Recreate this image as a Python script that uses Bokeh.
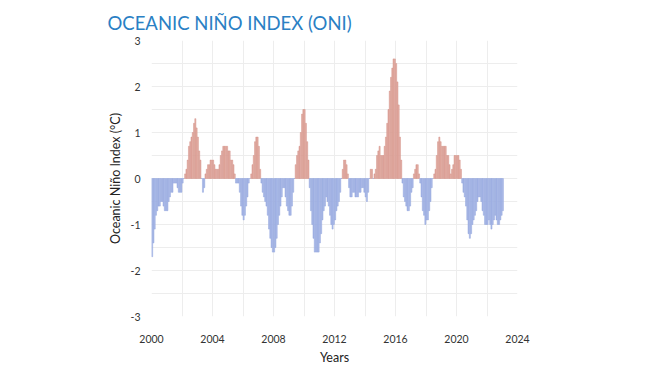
from bokeh.plotting import figure
from bokeh.models import ColumnDataSource, FixedTicker, SingleIntervalTicker, Range1d
from bokeh.embed import file_html
from bokeh.resources import INLINE

# Monthly Oceanic Niño Index values (°C), Jan 2000 onward
oni_2000 = [-1.7, -1.4, -1.1, -0.8, -0.7, -0.6, -0.6, -0.5, -0.5, -0.6, -0.7, -0.7]
oni_2001 = [-0.7, -0.5, -0.4, -0.3, -0.3, -0.1, -0.1, -0.1, -0.2, -0.3, -0.3, -0.3]
oni_2002 = [-0.1, 0.0, 0.1, 0.2, 0.4, 0.7, 0.8, 0.9, 1.0, 1.2, 1.3, 1.1]
oni_2003 = [0.9, 0.6, 0.4, 0.0, -0.3, -0.2, 0.1, 0.2, 0.3, 0.3, 0.4, 0.4]
oni_2004 = [0.4, 0.3, 0.2, 0.2, 0.2, 0.3, 0.5, 0.6, 0.7, 0.7, 0.7, 0.7]
oni_2005 = [0.6, 0.6, 0.4, 0.4, 0.3, 0.1, -0.1, -0.1, -0.1, -0.3, -0.6, -0.8]
oni_2006 = [-0.9, -0.8, -0.6, -0.4, -0.1, 0.0, 0.1, 0.3, 0.5, 0.8, 0.9, 0.9]
oni_2007 = [0.7, 0.2, -0.1, -0.3, -0.4, -0.5, -0.6, -0.8, -1.1, -1.3, -1.5, -1.6]
oni_2008 = [-1.6, -1.5, -1.3, -1.0, -0.8, -0.6, -0.4, -0.2, -0.2, -0.4, -0.6, -0.7]
oni_2009 = [-0.8, -0.8, -0.6, -0.3, 0.0, 0.3, 0.5, 0.6, 0.7, 1.0, 1.4, 1.5]
oni_2010 = [1.5, 1.2, 0.8, 0.4, -0.2, -0.7, -1.0, -1.3, -1.6, -1.6, -1.6, -1.6]
oni_2011 = [-1.4, -1.2, -0.9, -0.7, -0.6, -0.4, -0.5, -0.6, -0.8, -1.0, -1.1, -1.0]
oni_2012 = [-0.9, -0.7, -0.6, -0.5, -0.3, 0.0, 0.2, 0.4, 0.4, 0.3, 0.1, -0.2]
oni_2013 = [-0.4, -0.4, -0.3, -0.3, -0.4, -0.4, -0.4, -0.3, -0.3, -0.2, -0.2, -0.3]
oni_2014 = [-0.4, -0.5, -0.3, 0.0, 0.2, 0.2, 0.0, 0.1, 0.2, 0.5, 0.6, 0.7]
oni_2015 = [0.5, 0.5, 0.5, 0.7, 0.9, 1.2, 1.5, 1.9, 2.2, 2.4, 2.6, 2.6]
oni_2016 = [2.5, 2.1, 1.6, 0.9, 0.4, -0.1, -0.4, -0.5, -0.6, -0.7, -0.7, -0.6]
oni_2017 = [-0.3, -0.2, 0.1, 0.2, 0.3, 0.3, 0.1, -0.1, -0.4, -0.7, -0.8, -1.0]
oni_2018 = [-0.9, -0.9, -0.7, -0.5, -0.2, 0.0, 0.1, 0.2, 0.5, 0.8, 0.9, 0.8]
oni_2019 = [0.7, 0.7, 0.7, 0.7, 0.5, 0.5, 0.3, 0.1, 0.2, 0.3, 0.5, 0.5]
oni_2020 = [0.5, 0.5, 0.4, 0.2, -0.1, -0.3, -0.4, -0.6, -0.9, -1.2, -1.3, -1.2]
oni_2021 = [-1.0, -0.9, -0.8, -0.7, -0.5, -0.4, -0.4, -0.5, -0.7, -0.8, -1.0, -1.0]
oni_2022 = [-1.0, -0.9, -1.0, -1.1, -1.0, -0.9, -0.8, -0.9, -1.0, -1.0, -0.9, -0.8]
oni_2023 = [-0.7]

years = list(range(2000, 2024))
oni_by_year = [oni_2000, oni_2001, oni_2002, oni_2003, oni_2004, oni_2005, oni_2006,
               oni_2007, oni_2008, oni_2009, oni_2010, oni_2011, oni_2012, oni_2013,
               oni_2014, oni_2015, oni_2016, oni_2017, oni_2018, oni_2019, oni_2020,
               oni_2021, oni_2022, oni_2023]

x_ticks = [2000, 2004, 2008, 2012, 2016, 2020, 2024]
y_ticks = [-3, -2, -1, 0, 1, 2, 3]
y_tick_labels = ["-3", "-2", "-1", "0", "1", "2", "3"]

warm_fill, warm_line = "#e6afa6", "#d39288"
cool_fill, cool_line = "#adbbe9", "#91a4dc"

xs, tops, fills, lines = [], [], [], []
for yr, vals in zip(years, oni_by_year):
    for m, v in enumerate(vals):
        xs.append(yr + (m + 0.5) / 12.0)
        tops.append(v)
        fills.append(warm_fill if v > 0 else cool_fill)
        lines.append(warm_line if v > 0 else cool_line)

src = ColumnDataSource(dict(x=xs, top=tops, fill=fills, line=lines))

p = figure(output_backend="svg", toolbar_location=None,
           frame_width=366, frame_height=276,
           min_border_left=151, min_border_right=40,
           min_border_top=40, min_border_bottom=40,
           x_range=Range1d(2000, 2024), y_range=Range1d(-3, 3),
           background_fill_color="white", border_fill_color="white",
           outline_line_color=None)

p.title.text = "OCEANIC NIÑO INDEX (ONI)"
p.title.text_font = "Lato"
p.title.text_font_style = "normal"
p.title.text_font_size = "18.5px"
p.title.text_color = "#2a80c4"
p.title.align = "left"
p.title.offset = -44
p.title.standoff = 13

p.vbar(x="x", top="top", bottom=0, width=1 / 12.0 * 0.85, source=src,
       fill_color="fill", line_color="line", line_width=0.5)

p.xaxis.ticker = FixedTicker(ticks=x_ticks)
p.yaxis.ticker = FixedTicker(ticks=y_ticks)
p.yaxis.major_label_overrides = {t: s for t, s in zip(y_ticks, y_tick_labels)}
p.xgrid.ticker = SingleIntervalTicker(interval=2)
p.ygrid.ticker = SingleIntervalTicker(interval=0.5)
p.xgrid.grid_line_color = "#ededed"
p.ygrid.grid_line_color = "#ededed"

for ax in (p.xaxis[0], p.yaxis[0]):
    ax.axis_line_color = None
    ax.major_tick_line_color = None
    ax.minor_tick_line_color = None
    ax.major_label_text_font = "Lato"
    ax.major_label_text_font_size = "10.5px"
    ax.major_label_text_color = "#333333"
    ax.axis_label_text_font = "Lato"
    ax.axis_label_text_font_size = "12.5px"
    ax.axis_label_text_font_style = "normal"
    ax.axis_label_text_color = "#222222"

p.xaxis.axis_label = "Years"
p.yaxis.axis_label = "Oceanic Niño Index (°C)"
p.xaxis.major_label_standoff = 12
p.xaxis.axis_label_standoff = 4
p.yaxis.major_label_standoff = 5
p.yaxis.axis_label_standoff = 5

open("out.html", "w").write(file_html(p, INLINE))
